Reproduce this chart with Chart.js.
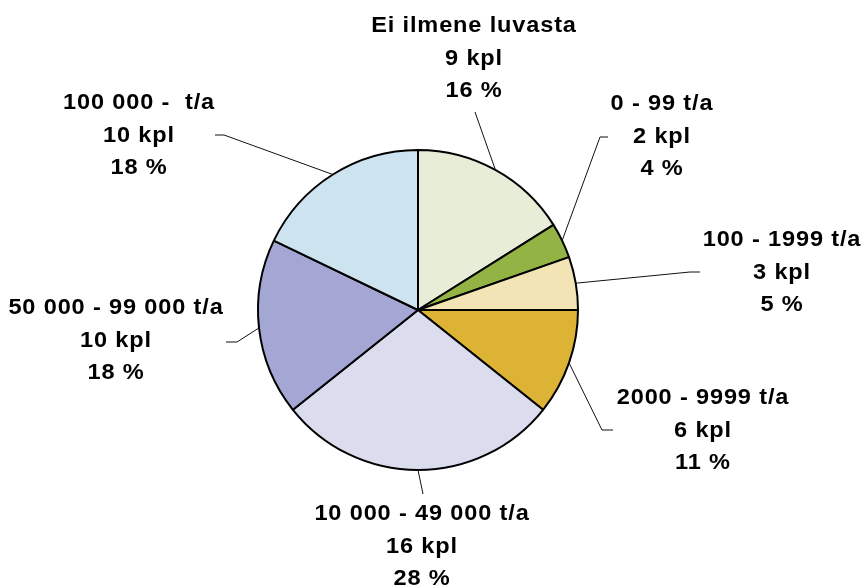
<!DOCTYPE html>
<html>
<head>
<meta charset="utf-8">
<script src="https://cdn.jsdelivr.net/npm/chart.js@4"></script>
<style>
  html, body { margin: 0; padding: 0; background: #fff; }
  #wrap { width: 862px; height: 588px; }
</style>
</head>
<body>
<div id="wrap"><canvas id="pieChart" width="862" height="588"></canvas></div>
<script>
// Data
const categories = ['Ei ilmene luvasta', '0 - 99 t/a', '100 - 1999 t/a', '2000 - 9999 t/a',
                    '10 000 - 49 000 t/a', '50 000 - 99 000 t/a', '100 000 -  t/a'];
const counts = [9, 2, 3, 6, 16, 10, 10];
const percentLabels = ['16 %', '4 %', '5 %', '11 %', '28 %', '18 %', '18 %'];

// Styles / layout
const sliceColors = ['#E8EDD8', '#93B444', '#F2E4B4', '#DDB336', '#DCDCEF', '#A4A6D3', '#CDE3EF'];
// centre of the first label line
const labelPos = [[474, 26], [662, 104], [782, 240], [703, 398], [422, 514], [116, 308], [139, 103]];
// leader line: elbow point, then optional short tick end
const leaderElbow = [[475, 112], [600, 137], [690, 272], [602, 430], [423, 494], [237, 342], [224, 135]];
const leaderTick = [null, [608, 137], [700, 272], [613, 430], null, [226, 342], [215, 135]];
const lineGap = 32.5;
const textStretch = 1.07;

const labelPlugin = {
    id: 'pieLabels',
    afterDraw(chart) {
        const ctx = chart.ctx;
        const arcs = chart.getDatasetMeta(0).data;
        ctx.save();
        // leader lines from slice edge
        ctx.strokeStyle = '#111';
        ctx.lineWidth = 1;
        arcs.forEach((arc, i) => {
            const p = arc.getProps(['x', 'y', 'startAngle', 'endAngle', 'outerRadius'], true);
            const mid = (p.startAngle + p.endAngle) / 2;
            const sx = p.x + Math.cos(mid) * p.outerRadius;
            const sy = p.y + Math.sin(mid) * p.outerRadius;
            ctx.beginPath();
            ctx.moveTo(sx, sy);
            ctx.lineTo(leaderElbow[i][0], leaderElbow[i][1]);
            if (leaderTick[i]) ctx.lineTo(leaderTick[i][0], leaderTick[i][1]);
            ctx.stroke();
        });
        // texts, slightly widened like the original
        ctx.fillStyle = '#000';
        ctx.font = 'bold 22px "Liberation Sans", Arial, sans-serif';
        ctx.textAlign = 'center';
        ctx.textBaseline = 'middle';
        if ('letterSpacing' in ctx) ctx.letterSpacing = '0.8px';
        categories.forEach((cat, i) => {
            const lines = [cat, counts[i] + ' kpl', percentLabels[i]];
            lines.forEach((t, k) => {
                ctx.save();
                ctx.translate(labelPos[i][0], labelPos[i][1] + k * lineGap);
                ctx.scale(textStretch, 1);
                ctx.fillText(t, 0, 0);
                ctx.restore();
            });
        });
        ctx.restore();
    }
};

const ctx = document.getElementById('pieChart').getContext('2d');
new Chart(ctx, {
    type: 'pie',
    data: {
        labels: categories,
        datasets: [{
            data: counts,
            backgroundColor: sliceColors,
            borderColor: '#000',
            borderWidth: 2
        }]
    },
    options: {
        responsive: false,
        animation: false,
        layout: { padding: { top: 149, bottom: 117, left: 0, right: 26 } },
        plugins: {
            legend: { display: false },
            tooltip: { enabled: false }
        }
    },
    plugins: [labelPlugin]
});
</script>
</body>
</html>
